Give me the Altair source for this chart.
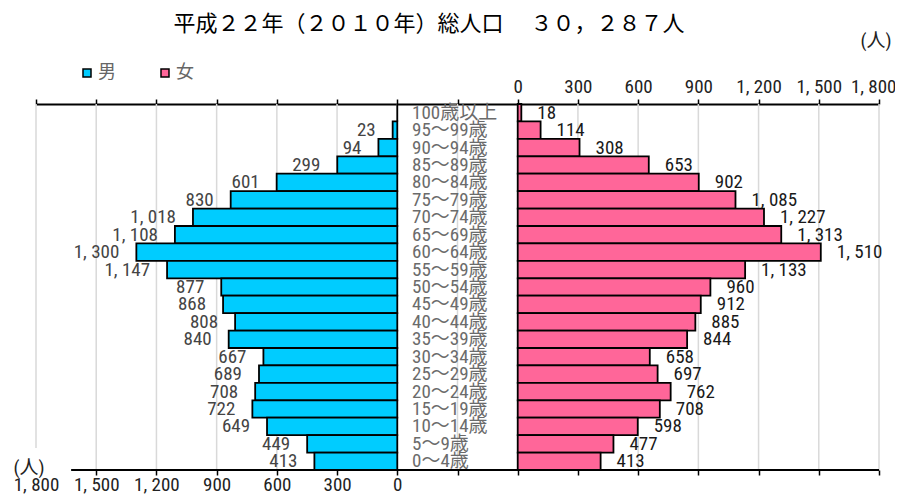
import altair as alt
import pandas as pd

# ---- data ----
ages = ["100歳以上", "95～99歳", "90～94歳", "85～89歳", "80～84歳", "75～79歳",
        "70～74歳", "65～69歳", "60～64歳", "55～59歳", "50～54歳", "45～49歳",
        "40～44歳", "35～39歳", "30～34歳", "25～29歳", "20～24歳", "15～19歳",
        "10～14歳", "5～9歳", "0～4歳"]
male = [0, 23, 94, 299, 601, 830, 1018, 1108, 1300, 1147, 877, 868, 808, 840,
        667, 689, 708, 722, 649, 449, 413]
female = [18, 114, 308, 653, 902, 1085, 1227, 1313, 1510, 1133, 960, 912, 885,
          844, 658, 697, 762, 708, 598, 477, 413]
sexes = ["男", "女"]
title_text = "平成２２年（２０１０年）総人口　 ３０，２８７人"
unit_text = "(人)"
# one continuous axis: left half = 男 (1,800 … 0), gap, right half = 女 (0 … 1,800)
tick_values = [0, 300, 600, 900, 1200, 1500, 1800, 2100, 2400, 2700, 3000,
               3300, 3600, 3900, 4200]

rows = []
for a, m, f in zip(ages, male, female):
    rows.append({"age": a, "sex": "男", "value": m})
    rows.append({"age": a, "sex": "女", "value": f})
df = pd.DataFrame(rows)

W, H = 843, 366
FONT = "Roboto Condensed, Liberation Sans Narrow, Noto Sans CJK JP"
CJK = "Noto Sans CJK JP"
FS = 19

xscale = alt.Scale(domain=[0, 4200], nice=False, zero=False)
yscale = alt.Scale(domain=ages, paddingInner=0, paddingOuter=0)

base = alt.Chart(df).transform_calculate(
    start="datum.sex == '男' ? 1800 - datum.value : 2400",
    end="datum.sex == '男' ? 1800 : 2400 + datum.value",
    lbl="replace(format(datum.value, ','), ',', ', ')",
)

top_axis = alt.Axis(
    orient="top", values=tick_values, title=None,
    labelExpr="datum.value >= 2400 ? replace(format(datum.value - 2400, ','), ',', ', ') : ''",
    labelFont=FONT, labelFontSize=FS, labelColor="#222222", labelPadding=3,
    labelFlush=True, labelFlushOffset=17, labelOverlap=False,
    domain=True, domainColor="black", domainWidth=2,
    ticks=True, tickColor="black", tickWidth=1.5, tickSize=5,
    grid=False,
)
bottom_axis = alt.Axis(
    orient="bottom", values=tick_values, title=None,
    labelExpr="datum.value <= 1800 ? replace(format(1800 - datum.value, ','), ',', ', ') : ''",
    labelFont=FONT, labelFontSize=FS, labelColor="#222222", labelPadding=0,
    labelFlush=False, labelOverlap=False,
    domain=False, grid=False,
    ticks=True, tickColor="black", tickWidth=1.5, tickSize=5,
    tickOpacity={"condition": {"test": "datum.value == 0", "value": 0}, "value": 1},
)

# light vertical gridlines (the leftmost one stops short above the unit label)
grid_df = pd.DataFrame({"u": tick_values})
grid_main = alt.Chart(grid_df).transform_filter("datum.u > 0").mark_rule(
    color="#d9d9d9", strokeWidth=1.5
).encode(
    x=alt.X("u:Q", scale=xscale, axis=None),
    y=alt.value(0),
    y2=alt.value(H),
)
grid_first = alt.Chart(grid_df).transform_filter("datum.u == 0").mark_rule(
    color="#d9d9d9", strokeWidth=1.5
).encode(
    x=alt.X("u:Q", scale=xscale, axis=None),
    y=alt.value(0),
    y2=alt.value(H - 22),
)

bars = base.mark_bar(stroke="black", strokeWidth=1.8).encode(
    x=alt.X("start:Q", scale=xscale, axis=top_axis),
    x2="end:Q",
    y=alt.Y("age:N", scale=yscale, axis=None),
    color=alt.Color(
        "sex:N",
        scale=alt.Scale(domain=sexes, range=["#00CCFF", "#FF6699"]),
        legend=alt.Legend(
            title=None, orient="none", direction="horizontal",
            legendX=42, legendY=-40, padding=0,
            symbolType="square", symbolSize=64,
            symbolStrokeColor="black", symbolStrokeWidth=1.5,
            labelFont=CJK, labelFontSize=18, labelColor="#666666",
            labelOffset=2, columnPadding=40,
        ),
    ),
)

male_labels = base.transform_filter("datum.sex == '男' && datum.value > 0").mark_text(
    align="right", baseline="middle", dx=-17, font=FONT, fontSize=FS, color="#444444"
).encode(
    x=alt.X("start:Q", scale=xscale, axis=bottom_axis),
    y=alt.Y("age:N", scale=yscale, axis=None),
    text="lbl:N",
)

female_labels = base.transform_filter("datum.sex == '女'").mark_text(
    align="left", baseline="middle", dx=16, font=FONT, fontSize=FS, color="#1a1a1a"
).encode(
    x=alt.X("end:Q", scale=xscale, axis=None),
    y=alt.Y("age:N", scale=yscale, axis=None),
    text="lbl:N",
)

age_labels = alt.Chart(pd.DataFrame({"age": ages})).mark_text(
    align="left", baseline="middle", font=FONT, fontSize=FS, color="#6b6b6b"
).encode(
    x=alt.value(376),
    y=alt.Y("age:N", scale=yscale, axis=None),
    text="age:N",
)

bottom_line = alt.Chart(pd.DataFrame({"a": [175], "b": [4200]})).mark_rule(
    color="black", strokeWidth=2
).encode(
    x=alt.X("a:Q", scale=xscale, axis=None),
    x2="b:Q",
    y=alt.value(H),
)

units = alt.Chart(pd.DataFrame({"t": [unit_text, unit_text], "px": [840, -7], "py": [-63, H - 2]})).mark_text(
    font=FONT, fontSize=19, color="#222222", baseline="middle", align="center"
).encode(
    x=alt.X("px:Q", scale=None, axis=None),
    y=alt.Y("py:Q", scale=None, axis=None),
    text="t:N",
)

title = alt.Chart(pd.DataFrame({"t": [title_text]})).mark_text(
    font=CJK, fontSize=22, fontWeight="normal", color="black",
    align="center", baseline="alphabetic"
).encode(
    x=alt.value(393),
    y=alt.value(-73),
    text="t:N",
)

chart = alt.layer(
    grid_main, grid_first, bars, male_labels, female_labels, age_labels,
    bottom_line, units, title
).resolve_axis(x="independent").properties(
    width=W, height=H,
    autosize=alt.AutoSizeParams(type="none"),
    padding={"left": 28, "top": 96, "right": 16, "bottom": 25},
).configure_view(stroke=None)

chart.save("out.html", embed_options={"renderer": "svg", "actions": False})
